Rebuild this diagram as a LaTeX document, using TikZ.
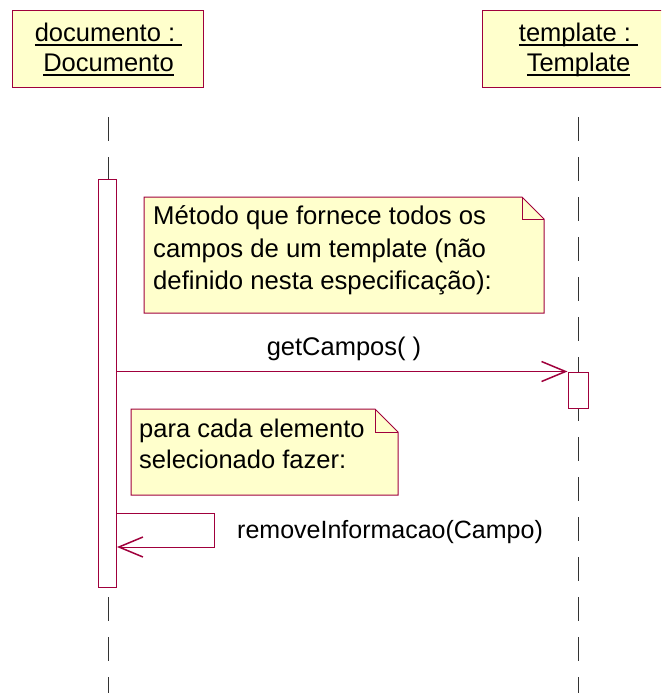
\documentclass[tikz,border=0pt]{standalone}
\usepackage{fontspec}
\setmainfont{Liberation Sans}
\usetikzlibrary{arrows.meta}
\definecolor{umlred}{RGB}{160,0,60}
\definecolor{notefill}{RGB}{255,255,204}
\newcommand{\umlul}[1]{\setbox0\hbox{#1}\rlap{\rule[-4.6pt]{\wd0}{1.7pt}}\box0}
\begin{document}
\begin{tikzpicture}[x=1pt,y=-1pt,
  every node/.style={font=\fontsize{25.5}{31.5}\selectfont, inner sep=0pt},
  objbox/.style={draw=umlred, fill=notefill, line width=1pt, minimum width=191pt, minimum height=76pt},
  objlabel/.style={anchor=base, align=center, font=\fontsize{25.5}{29.5}\selectfont},
  lifeline/.style={draw=black!80, line width=1pt, dash pattern=on 24pt off 16pt},
  actbox/.style={draw=umlred, fill=white, line width=1pt},
  notebox/.style={draw=umlred, fill=notefill, line width=1pt},
  msg/.style={draw=umlred, line width=1pt, -{Straight Barb[length=24pt,width=20pt,line width=1.5pt]}}
]
\clip (0,0) rectangle (661,693);
\fill[white] (0,0) rectangle (661,693);
% objects
\node[objbox] (doc) at (107.5,49) {};
\node[objlabel] (doclabel) at (108.5,71) {\umlul{documento :~}\\\umlul{Documento}};
\node[objbox, minimum width=192pt] (tpl) at (578,49) {};
\node[objlabel] (tpllabel) at (578.5,71) {\umlul{template :~}\\\umlul{Template}};
% lifelines
\coordinate (l1top) at (108,117);
\coordinate (l1bot) at (108,693);
\coordinate (l2top) at (578,117);
\coordinate (l2bot) at (578,693);
\draw[lifeline] (l1top) -- (l1bot);
\draw[lifeline] (l2top) -- (l2bot);
% activations
\node[actbox, minimum width=18pt, minimum height=408pt] (act1) at (107.5,383) {};
\node[actbox, minimum width=20pt, minimum height=36pt] (act2) at (578,390) {};
% note 1
\draw[notebox] (144,197) -- (522,197) -- (544,219) -- (544,313) -- (144,313) -- cycle;
\draw[notebox, fill=none] (522,197) -- (522,219) -- (544,219);
\node[anchor=base west, align=left, font=\fontsize{25.7}{32.3}\selectfont] (n1text) at (153,289.5) {Método que fornece todos os\\campos de um template (não\\definido nesta especificação):};
% message getCampos
\draw[msg] (act1.east |- act2.north) -- (act2.north west);
\node[anchor=base] (m1label) at (344,355) {getCampos( )};
% note 2
\draw[notebox] (131,409) -- (375,409) -- (398,432) -- (398,495) -- (131,495) -- cycle;
\draw[notebox, fill=none] (375,409) -- (375,432) -- (398,432);
\node[anchor=base west, align=left, font=\fontsize{25.5}{31}\selectfont] (n2text) at (139,468) {para cada elemento\\selecionado fazer:};
% self message
\coordinate (s1) at (214,513);
\coordinate (s2) at (214,547);
\draw[msg] (act1.east |- s1) -- (s1) -- (s2) -- (act1.east |- s2);
\node[anchor=base west, font=\fontsize{25}{30}\selectfont] (m2label) at (237,538) {removeInformacao(Campo)};
\end{tikzpicture}
\end{document}
